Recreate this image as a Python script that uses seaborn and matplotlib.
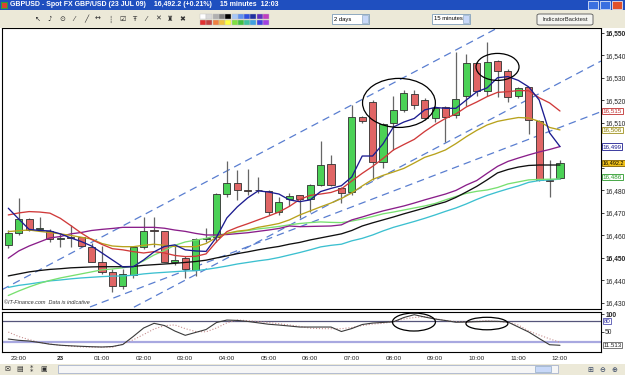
import numpy as np
import pandas as pd
import matplotlib
matplotlib.use("Agg")
import matplotlib.pyplot as plt
import matplotlib.transforms as mtransforms
from matplotlib.patches import Rectangle, Ellipse, FancyBboxPatch
import seaborn as sns

W, H = 625, 375
sns.set_style("white")
plt.rcParams['font.family'] = ['Liberation Sans', 'DejaVu Sans']

# ---------------- data (15-minute candles, 22:45 -> 12:00) ----------------
opens = [16455.8, 16461.0, 16467.2, 16463.0, 16462.0, 16458.5, 16459.2, 16459.2, 16455.0, 16448.4,
         16443.6, 16437.7, 16442.4, 16455.0, 16462.3, 16462.0, 16448.4, 16449.9, 16444.7, 16458.6,
         16459.5, 16478.3, 16483.2, 16480.3, 16480.0, 16479.9, 16470.3, 16476.0, 16477.8, 16476.0,
         16482.4, 16491.6, 16481.0, 16479.5, 16512.8, 16519.5, 16492.5, 16510.0, 16515.8, 16522.8,
         16520.2, 16512.1, 16517.0, 16513.6, 16522.1, 16536.5, 16524.4, 16537.6, 16533.2, 16522.1,
         16525.9, 16511.0, 16484.5, 16485.4]
highs = [16462.5, 16476.5, 16467.6, 16468.0, 16462.7, 16461.0, 16464.6, 16459.5, 16456.8, 16455.5,
         16445.0, 16445.0, 16455.5, 16468.4, 16468.4, 16462.1, 16455.8, 16451.0, 16459.0, 16463.5,
         16479.0, 16493.1, 16489.1, 16489.6, 16485.8, 16480.0, 16477.0, 16478.7, 16478.0, 16483.0,
         16502.0, 16495.8, 16481.5, 16518.0, 16513.0, 16520.0, 16510.0, 16522.1, 16524.7, 16524.7,
         16521.0, 16517.5, 16517.5, 16541.7, 16540.7, 16537.0, 16545.9, 16538.0, 16534.0, 16526.0,
         16526.0, 16511.5, 16493.6, 16493.6]
lows = [16454.5, 16460.0, 16461.8, 16462.0, 16457.0, 16455.0, 16455.0, 16455.0, 16448.0, 16443.0,
        16434.8, 16436.0, 16441.0, 16454.0, 16455.0, 16448.0, 16447.0, 16441.0, 16442.0, 16457.0,
        16457.0, 16477.0, 16475.8, 16478.0, 16479.0, 16469.1, 16469.0, 16473.0, 16467.6, 16470.6,
        16482.0, 16482.0, 16474.6, 16478.0, 16510.0, 16484.7, 16489.9, 16498.0, 16515.0, 16516.0,
        16511.5, 16510.6, 16501.7, 16512.0, 16517.6, 16522.0, 16522.0, 16521.7, 16519.5, 16521.0,
        16505.1, 16484.0, 16477.3, 16485.0]
closes = [16461.2, 16467.2, 16462.4, 16463.3, 16458.4, 16459.0, 16459.0, 16455.3, 16448.4, 16443.6,
          16437.7, 16442.8, 16454.9, 16462.1, 16462.0, 16448.4, 16449.1, 16445.0, 16458.3, 16459.0,
          16478.3, 16483.2, 16480.2, 16479.9, 16480.2, 16470.3, 16475.0, 16477.5, 16476.3, 16482.4,
          16491.3, 16482.4, 16478.8, 16512.8, 16511.0, 16492.5, 16509.6, 16515.8, 16523.2, 16518.0,
          16512.1, 16516.8, 16512.5, 16520.5, 16536.5, 16524.4, 16537.0, 16533.3, 16521.7, 16525.7,
          16511.3, 16484.7, 16484.2, 16492.2]

ma_navy = [16472.1, 16467.3, 16462.7, 16462.2, 16462.0, 16460.7, 16458.9, 16457.3, 16455.3, 16452.2,
           16449.1, 16446.0, 16446.1, 16449.1, 16452.7, 16455.1, 16455.8, 16453.6, 16453.1, 16452.9,
           16459.2, 16467.8, 16472.7, 16476.7, 16479.8, 16479.3, 16478.4, 16475.8, 16475.0, 16475.8,
           16479.5, 16480.9, 16482.1, 16486.0, 16495.3, 16495.3, 16500.7, 16508.2, 16510.4, 16512.0,
           16515.8, 16516.9, 16516.5, 16516.5, 16520.2, 16523.8, 16525.6, 16530.1, 16530.6, 16528.9,
           16526.0, 16520.2, 16505.6, 16499.5]
ma_red = [16469.1, 16470.0, 16470.6, 16470.4, 16469.9, 16467.6, 16464.4, 16461.1, 16458.2, 16456.0,
          16454.1, 16453.6, 16452.8, 16452.2, 16452.8, 16452.2, 16451.1, 16450.6, 16450.7, 16451.8,
          16457.2, 16461.7, 16463.6, 16465.2, 16466.9, 16468.6, 16470.4, 16472.9, 16476.0, 16477.8,
          16478.4, 16479.1, 16480.7, 16484.2, 16487.6, 16490.7, 16494.2, 16498.0, 16500.4, 16502.7,
          16506.2, 16509.3, 16512.0, 16514.0, 16517.1, 16519.3, 16521.7, 16523.6, 16523.9, 16524.4,
          16524.3, 16521.2, 16518.9, 16515.3]
ma_olive = [16461.7, 16462.1, 16462.4, 16461.8, 16461.3, 16460.7, 16460.0, 16459.2, 16458.4, 16456.4,
            16455.3, 16455.0, 16455.0, 16455.6, 16456.1, 16455.6, 16455.1, 16455.0, 16455.0, 16456.4,
            16459.1, 16460.9, 16461.9, 16462.4, 16463.6, 16464.4, 16465.3, 16466.9, 16469.1, 16470.9,
            16472.7, 16474.4, 16476.4, 16478.9, 16482.0, 16484.9, 16486.7, 16488.2, 16489.8, 16492.2,
            16494.7, 16496.2, 16498.0, 16500.8, 16503.9, 16506.7, 16509.1, 16510.7, 16511.6, 16512.4,
            16512.2, 16510.7, 16508.0, 16506.9]
ma_purple = [16449.9, 16453.1, 16455.3, 16457.1, 16458.9, 16459.5, 16460.7, 16461.3, 16462.2, 16462.7,
             16463.1, 16463.6, 16463.6, 16463.6, 16463.6, 16463.2, 16462.4, 16461.8, 16460.9, 16460.2,
             16460.2, 16460.4, 16460.8, 16461.2, 16461.8, 16462.4, 16463.1, 16464.2, 16463.9, 16464.0,
             16464.1, 16464.2, 16464.7, 16466.9, 16468.2, 16469.6, 16470.9, 16472.0, 16473.1, 16474.4,
             16475.8, 16477.1, 16478.4, 16480.0, 16482.4, 16484.4, 16487.6, 16490.7, 16492.9, 16494.4,
             16495.8, 16497.1, 16498.2, 16499.5]
ma_black = [16442.0, 16442.9, 16443.8, 16444.4, 16444.9, 16445.2, 16445.6, 16445.8, 16446.0, 16446.1,
            16446.1, 16446.1, 16446.2, 16446.7, 16447.0, 16447.3, 16447.6, 16448.0, 16448.4, 16449.0,
            16450.0, 16450.9, 16451.9, 16452.7, 16453.6, 16454.4, 16455.1, 16456.1, 16456.9, 16458.0,
            16458.9, 16459.8, 16460.7, 16462.2, 16464.2, 16465.6, 16466.9, 16468.2, 16469.6, 16470.9,
            16472.2, 16473.6, 16474.9, 16476.9, 16479.3, 16481.8, 16484.7, 16487.8, 16489.3, 16490.4,
            16491.1, 16491.3, 16491.3, 16491.3]
ma_green = [16433.3, 16435.3, 16437.1, 16438.7, 16440.0, 16441.1, 16442.0, 16442.9, 16443.8, 16444.7,
            16445.1, 16445.6, 16446.4, 16448.7, 16451.3, 16453.3, 16455.6, 16457.1, 16457.9, 16458.7,
            16460.0, 16460.9, 16461.6, 16462.2, 16462.9, 16463.4, 16464.0, 16464.7, 16465.3, 16465.7,
            16466.0, 16465.8, 16465.7, 16466.4, 16467.3, 16468.4, 16469.6, 16470.4, 16471.3, 16472.2,
            16473.1, 16474.2, 16475.8, 16477.3, 16478.7, 16479.6, 16480.2, 16481.3, 16482.9, 16483.8,
            16484.7, 16484.9, 16485.0, 16485.1]
ma_cyan = [16436.9, 16437.8, 16438.4, 16439.1, 16439.8, 16440.2, 16440.7, 16441.1, 16441.4, 16441.7,
           16441.9, 16442.0, 16442.3, 16442.9, 16443.3, 16443.6, 16443.9, 16444.2, 16444.3, 16444.9,
           16445.6, 16446.4, 16447.3, 16448.0, 16448.7, 16449.3, 16450.2, 16451.3, 16452.4, 16453.6,
           16454.9, 16455.6, 16456.1, 16457.6, 16458.7, 16460.2, 16462.0, 16463.6, 16464.9, 16466.2,
           16467.6, 16469.1, 16470.7, 16472.2, 16474.0, 16476.0, 16477.8, 16479.3, 16480.7, 16482.0,
           16483.6, 16484.4, 16484.7, 16485.0]

stoch_k = [29.4, 25.7, 23.7, 19.4, 14.6, 11.7, 10.0, 8.6, 7.4, 6.6,
           8.0, 13.7, 36.6, 60.9, 74.3, 68.0, 52.3, 40.0, 48.3, 56.6,
           76.6, 83.7, 82.6, 79.7, 75.7, 71.7, 69.4, 66.6, 63.7, 63.7,
           63.7, 63.7, 50.9, 59.4, 70.9, 75.1, 76.9, 78.6, 90.9, 99.0,
           92.3, 86.6, 82.3, 77.4, 78.0, 79.1, 80.0, 80.0, 78.0, 63.7,
           49.4, 30.9, 13.1, 11.5]
stoch_d = [49.4, 36.6, 27.7, 20.0, 15.1, 11.4, 9.1, 6.9, 6.3, 6.0,
           6.0, 15.1, 27.1, 42.3, 58.0, 67.7, 69.7, 59.1, 50.9, 50.0,
           60.9, 75.7, 83.7, 82.0, 79.4, 76.6, 73.1, 69.4, 65.7, 60.3,
           59.1, 58.9, 58.9, 62.3, 68.0, 72.3, 74.3, 79.4, 86.6, 90.9,
           93.7, 88.0, 82.3, 79.4, 78.0, 80.3, 81.7, 79.4, 78.0, 69.4,
           52.3, 40.9, 30.0, 20.0]

# hand-drawn trend lines (candle index, price)
trend_i0 = [-0.6, 12.07, 7.85]
trend_p0 = [16435.9, 16428.1, 16428.2]
trend_i1 = [46.75, 56.94, 56.94]
trend_p1 = [16551.6, 16537.5, 16515.0]

time_pos = [1, 5, 9, 13, 17, 21, 25, 29, 33, 37, 41, 45, 49, 53]
time_labels = ["23:00", "23", "01:00", "02:00", "03:00", "04:00", "05:00", "06:00",
               "07:00", "08:00", "09:00", "10:00", "11:00", "12:00"]
price_ticks = list(range(16430, 16551, 10))

idx = np.arange(len(opens))
df = pd.DataFrame(dict(i=idx, o=opens, h=highs, l=lows, c=closes))

# ---------------- figure ----------------
fig = plt.figure(figsize=(W / 100, H / 100), dpi=100, facecolor="white")

def fx(px):
    return px / W

def fy(py):
    return 1 - py / H

# title bar
fig.patches.append(Rectangle((0, fy(10)), 1, 10 / H, transform=fig.transFigure,
                             facecolor="#1f4fbf", edgecolor="none", zorder=0))
fig.text(fx(10), fy(5), "GBPUSD - Spot FX GBP/USD (23 JUL 09)    16,492.2 (+0.21%)    15 minutes  12:03",
         color="white", fontsize=5, fontweight="bold", va="center", ha="left")
fig.patches.append(Rectangle((fx(1), fy(8)), 6 / W, 6 / H, transform=fig.transFigure,
                             facecolor="#e04030", edgecolor="#30a040", lw=0.8))
for x0, col in [(588, "#3a6fe0"), (600, "#3a6fe0"), (612, "#e0502a")]:
    fig.patches.append(Rectangle((fx(x0), fy(9)), 10 / W, 8 / H, transform=fig.transFigure,
                                 facecolor=col, edgecolor="white", lw=0.5))
# toolbar
fig.patches.append(Rectangle((0, fy(28)), 1, 18 / H, transform=fig.transFigure,
                             facecolor="#ece9d8", edgecolor="none", zorder=0))
tool_glyphs = ["↖", "♪", "⊙", "⁄", "╱", "↔", "┆", "☑", "Ŧ", "⁄", "✕", "♜", "✖"]
for k, g in enumerate(tool_glyphs):
    fig.text(fx(38 + k * 12), fy(19), g, fontsize=5, va="center", ha="center",
             color="#303030", family=["DejaVu Sans"])
pal_top = ["#ffffff", "#d8d8d8", "#b0b0b0", "#808080", "#000000", "#a8c8f8", "#6090f0",
           "#3050e0", "#2030a0", "#6030c0", "#c040c0"]
pal_bot = ["#e03030", "#c04040", "#f08040", "#f0c040", "#ffff40", "#80e040", "#40c040",
           "#40c0a0", "#40a0e0", "#4040e0", "#a040e0"]
for k, (ct, cb) in enumerate(zip(pal_top, pal_bot)):
    fig.patches.append(Rectangle((fx(200 + k * 6.3), fy(19)), 6 / W, 5 / H,
                                 transform=fig.transFigure, facecolor=ct, edgecolor="#c0c0c0", lw=0.3))
    fig.patches.append(Rectangle((fx(200 + k * 6.3), fy(25)), 6 / W, 5 / H,
                                 transform=fig.transFigure, facecolor=cb, edgecolor="#c0c0c0", lw=0.3))
for x0, w, label in [(332, 37, "2 days"), (432, 38, "15 minutes")]:
    fig.patches.append(Rectangle((fx(x0), fy(24)), w / W, 10 / H, transform=fig.transFigure,
                                 facecolor="white", edgecolor="#7f9db9", lw=0.6))
    fig.patches.append(Rectangle((fx(x0 + w - 7), fy(23)), 6 / W, 8 / H, transform=fig.transFigure,
                                 facecolor="#c8d8f8", edgecolor="#7f9db9", lw=0.4))
    fig.text(fx(x0 + 2), fy(19), label, fontsize=4.2, va="center", ha="left", color="#000000")
fig.patches.append(FancyBboxPatch((fx(537), fy(25)), 56 / W, 11 / H, boxstyle="round,pad=0,rounding_size=0.004",
                                  transform=fig.transFigure, facecolor="#f4f4f0", edgecolor="#555555", lw=0.6))
fig.text(fx(565), fy(19.5), "IndicatorBacktest", fontsize=4.2, va="center", ha="center")
# bottom bar
fig.patches.append(Rectangle((0, 0), 1, 11 / H, transform=fig.transFigure,
                             facecolor="#ece9d8", edgecolor="none", zorder=0))
for k, g in enumerate(["✉", "▤", "⁑", "▣"]):
    fig.text(fx(8 + k * 12), fy(369.5), g, fontsize=5, va="center", ha="center",
             color="#303030", family=["DejaVu Sans"])
fig.patches.append(Rectangle((fx(58), fy(373)), 500 / W, 8 / H, transform=fig.transFigure,
                             facecolor="#f6f6f6", edgecolor="#9aa8c8", lw=0.5))
fig.patches.append(Rectangle((fx(535), fy(372)), 16 / W, 6 / H, transform=fig.transFigure,
                             facecolor="#c8d8f8", edgecolor="#7f9db9", lw=0.4))
for k, g in enumerate(["⊞", "⊖", "⊕"]):
    fig.text(fx(590 + k * 12), fy(369.5), g, fontsize=5, va="center", ha="center",
             color="#304060", family=["DejaVu Sans"])

# ---------------- main price panel ----------------
ax = fig.add_axes([fx(2), fy(309), 599 / W, 281 / H])
ax.set_facecolor("white")
up = df.c >= df.o
body_bot = np.minimum(df.o, df.c)
body_h = np.maximum(np.abs(df.c - df.o), 0.35)
ax.vlines(df.i, df.l, df.h, color="#666666", lw=0.9, zorder=2)
ax.bar(df.i, body_h, bottom=body_bot, width=0.68,
       color=np.where(up, "#4bd156", "#e06565"), edgecolor="#303030", linewidth=0.6, zorder=3)

ma_specs = [(ma_cyan, "#3cc0d0"), (ma_green, "#78e070"), (ma_black, "#101010"),
            (ma_purple, "#8a1e8a"), (ma_olive, "#b8a21c"), (ma_red, "#d03a3a"), (ma_navy, "#1c1c90")]
for arr, col in ma_specs:
    sns.lineplot(x=idx, y=arr, ax=ax, color=col, linewidth=0.95, legend=False,
                 estimator=None, sort=False, zorder=4)

for a0, b0, a1, b1 in zip(trend_i0, trend_p0, trend_i1, trend_p1):
    ax.plot([a0, a1], [b0, b1], color="#5a7ed0", lw=0.9, dashes=(6, 4), zorder=1.5)

ax.add_patch(Ellipse((37.53, 16518.9), 7.0, 21.8, fill=False, edgecolor="black", lw=0.9, zorder=5))
ax.add_patch(Ellipse((47.0, 16534.9), 4.13, 12.0, fill=False, edgecolor="black", lw=0.9, zorder=5))

ax.set_xlim(-0.605, 56.94)
ax.set_ylim(16427.3, 16552.2)
ax.yaxis.tick_right()
ax.set_yticks(price_ticks)
ax.set_yticklabels(["" if v in (16490, 16500) else f"{v:,}" for v in price_ticks])
ax.tick_params(axis="y", direction="out", length=2, width=0.6, pad=1, labelsize=4.8, colors="#222222")
for lab, v in zip(ax.get_yticklabels(), price_ticks):
    if v in (16450, 16550):
        lab.set_fontweight("bold")
ax.set_xticks([])
ax.set_xlabel("")
ax.set_ylabel("")
for s in ax.spines.values():
    s.set_color("black")
    s.set_linewidth(0.8)
ax.text(0.004, 16429.5, "©IT-Finance.com  Data is indicative", fontsize=4, style="italic",
        color="#333333", transform=mtransforms.blended_transform_factory(ax.transAxes, ax.transData))

# last-value boxes at the right
bt = mtransforms.blended_transform_factory(ax.transAxes, ax.transData)
boxes = [(16515.3, "16,515", "#c03030", "white", "#c03030", 4.5),
         (16506.9, "16,506", "#8a7a10", "#fffff0", "#a09020", 4.5),
         (16499.5, "16,499", "#1c1c90", "white", "#1c1c90", 4.5),
         (16492.2, "16,492.2", "#000000", "#f2c21a", "#806000", 4.0),
         (16486.0, "16,486", "#2a9a2a", "white", "#2a9a2a", 4.5)]
for v, t, tc, fc, ec, fs in boxes:
    ax.text(1.003, v, t, transform=bt, fontsize=fs, color=tc, va="center", ha="left", zorder=10,
            bbox=dict(boxstyle="square,pad=0.1", facecolor=fc, edgecolor=ec, lw=0.6), clip_on=False)

# ---------------- oscillator panel ----------------
ax2 = fig.add_axes([fx(2), fy(352), 599 / W, 40 / H])
ax2.set_facecolor("white")
ax2.axhline(80, color="#55557a", lw=0.9, zorder=1)
ax2.axhline(20, color="#a8a8e0", lw=1.6, zorder=1)
sns.lineplot(x=idx, y=stoch_d, ax=ax2, color="#c89090", lw=0.8, linestyle=":", legend=False,
             estimator=None, sort=False, zorder=2)
sns.lineplot(x=idx, y=stoch_k, ax=ax2, color="#3a3a3a", lw=0.8, legend=False,
             estimator=None, sort=False, zorder=3)
ax2.add_patch(Ellipse((38.97, 78.0), 4.13, 51.4, fill=False, edgecolor="black", lw=0.9, zorder=5))
ax2.add_patch(Ellipse((45.98, 73.7), 4.03, 35.7, fill=False, edgecolor="black", lw=0.9, zorder=5))
ax2.set_xlim(-0.605, 56.94)
ax2.set_ylim(-7.7, 106.7)
ax2.yaxis.tick_right()
ax2.set_yticks([100, 50])
ax2.set_yticklabels(["100", "50"])
ax2.tick_params(axis="y", direction="out", length=2, width=0.6, pad=1, labelsize=4.8)
ax2.get_yticklabels()[0].set_fontweight("bold")
bt2 = mtransforms.blended_transform_factory(ax2.transAxes, ax2.transData)
ax2.text(1.004, 80, "80", transform=bt2, fontsize=4.4, color="#3030a0", va="center", ha="left",
         bbox=dict(boxstyle="square,pad=0.1", facecolor="white", edgecolor="#3030a0", lw=0.5), clip_on=False)
ax2.text(1.004, 12, "11.513", transform=bt2, fontsize=4.4, color="#222222", va="center", ha="left",
         bbox=dict(boxstyle="square,pad=0.1", facecolor="white", edgecolor="#444444", lw=0.5), clip_on=False)
ax2.set_xticks(time_pos)
ax2.set_xticklabels(time_labels)
ax2.tick_params(axis="x", direction="out", length=2, width=0.6, pad=1, labelsize=4.6, colors="#222222")
ax2.get_xticklabels()[1].set_fontweight("bold")
ax2.set_xlabel("")
ax2.set_ylabel("")
for s in ax2.spines.values():
    s.set_color("black")
    s.set_linewidth(0.8)

fig.savefig("out.png", dpi=100, facecolor=fig.get_facecolor())
